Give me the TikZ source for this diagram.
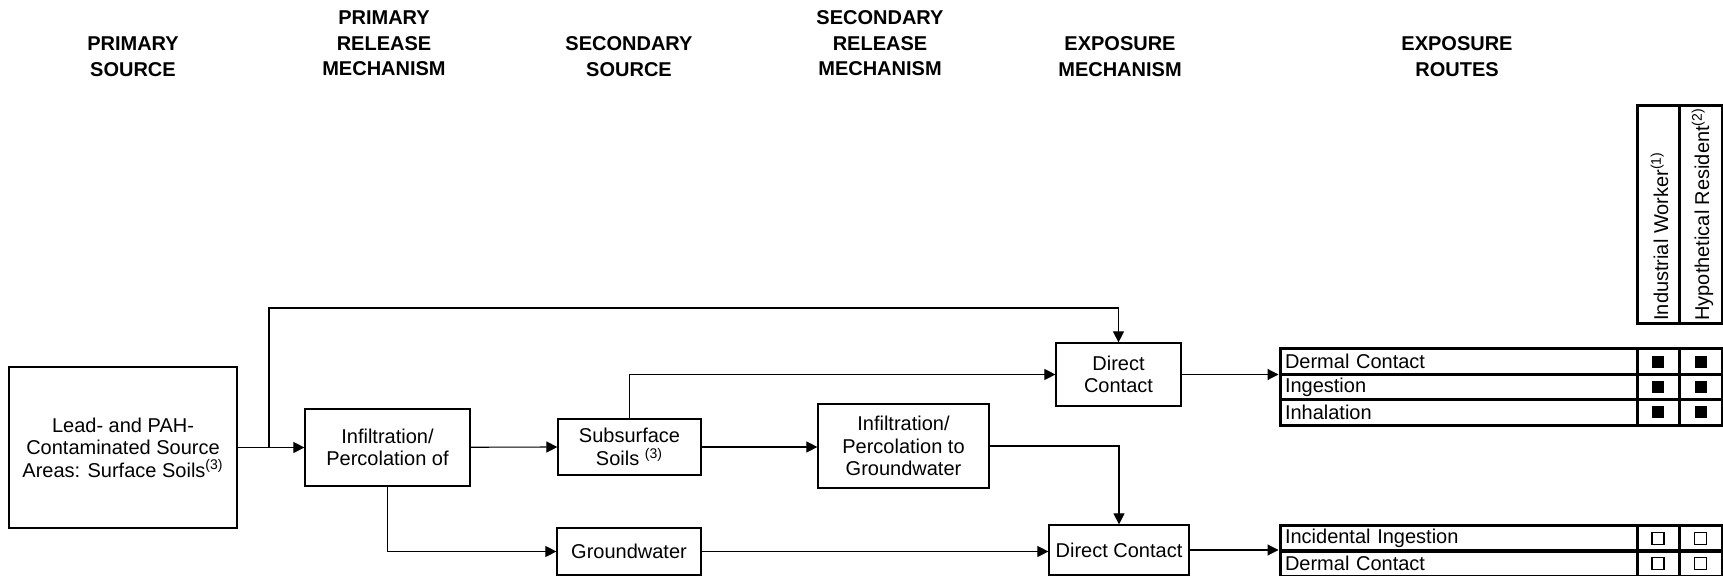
\documentclass[tikz,border=0pt]{standalone}
\usepackage{fontspec}
\setmainfont{Liberation Sans}
\usetikzlibrary{arrows.meta, positioning, calc}

\tikzset{
  box/.style={draw, line width=0.6pt, align=center, inner sep=0pt,
              font=\fontsize{10}{11.25}\selectfont},
  link/.style={line width=0.55pt, -{Triangle[length=5.5pt, width=5.5pt]}},
  heading/.style={align=center, inner sep=0pt, font=\fontsize{10}{12.75}\selectfont\bfseries},
  routerow/.style={draw, line width=1.5pt, minimum width=178.5pt, minimum height=12.75pt,
                   text width=173.5pt, align=left, inner xsep=2.5pt, inner ysep=0pt,
                   font=\fontsize{10}{12}\selectfont},
  cellbox/.style={draw, line width=1.5pt, minimum height=12.75pt, inner sep=0pt},
  fullmark/.style={fill, inner sep=0pt, minimum size=6pt},
  openmark/.style={draw, line width=0.6pt, inner sep=0pt, minimum size=6pt},
  receptor/.style={rotate=90, anchor=base west, inner sep=0pt, font=\fontsize{10}{12}\selectfont}
}

\begin{document}
\begin{tikzpicture}[x=0.5pt, y=-0.5pt]
\useasboundingbox (0,0) rectangle (1723,576);

% column headings
\node[heading] (hps)  at (133,56.5)  {PRIMARY\\SOURCE};
\node[heading] (hprm) at (384,43.5)  {PRIMARY\\RELEASE\\MECHANISM};
\node[heading] (hss)  at (629,56.5)  {SECONDARY\\SOURCE};
\node[heading] (hsrm) at (880,43.5)  {SECONDARY\\RELEASE\\MECHANISM};
\node[heading] (hem)  at (1120,56.5) {EXPOSURE\\MECHANISM};
\node[heading] (her)  at (1457,56.5) {EXPOSURE\\ROUTES};

% flow boxes
\node[box, minimum width=114pt, minimum height=80.5pt] (src) at (123,447.5)
  {Lead- and PAH-\\Contaminated Source\\Areas: Surface Soils\textsuperscript{(3)}};
\node[box, minimum width=82.5pt, minimum height=38.5pt] (inf1) at (387.5,447.5)
  {Infiltration/\\Percolation of};
\node[box, minimum width=71.5pt, minimum height=28pt] (sub) at (629.5,447)
  {Subsurface\\Soils \textsuperscript{(3)}};
\node[box, minimum width=72pt, minimum height=23.5pt] (gw) at (629,551.5) {Groundwater};
\node[box, minimum width=85.5pt, minimum height=42pt] (inf2) at (903.5,446)
  {Infiltration/\\Percolation to\\Groundwater};
\node[box, minimum width=62.5pt, minimum height=31.5pt] (dc1) at (1118.5,374.5) {Direct\\Contact};
\node[box, minimum width=70pt, minimum height=25pt] (dc2) at (1119,550) {Direct Contact};

% receptor heading
\node[cellbox, minimum width=21pt, minimum height=109pt] (colw) at (1658,215) {};
\node[cellbox, minimum width=21.5pt, minimum height=109pt] (colr) at (1700.5,215) {};
\node[receptor] (iw) at (1668,321) {Industrial Worker\textsuperscript{(1)}};
\node[receptor] (hr) at (1709,321) {Hypothetical Resident\textsuperscript{(2)}};

% exposure routes
\foreach \txt/\yy [count=\i] in {Dermal Contact/361.7, Ingestion/387, Inhalation/412.3} {
  \node[routerow] (soil\i) at (1458.5,\yy) {\txt};
  \node[cellbox, minimum width=21pt] (soilw\i) at (1658,\yy) {};
  \node[cellbox, minimum width=21.5pt] (soilr\i) at (1700.5,\yy) {};
  \node[fullmark] at (soilw\i) {};
  \node[fullmark] at (soilr\i) {};
}
\foreach \txt/\yy [count=\i] in {Incidental Ingestion/538.5, Dermal Contact/563.5} {
  \node[routerow] (water\i) at (1458.5,\yy) {\txt};
  \node[cellbox, minimum width=21pt] (waterw\i) at (1658,\yy) {};
  \node[cellbox, minimum width=21.5pt] (waterr\i) at (1700.5,\yy) {};
  \node[openmark] at (waterw\i) {};
  \node[openmark] at (waterr\i) {};
}

% connectors
\coordinate (split) at (269,448);
\coordinate (overhead) at (269,308);
\draw[link] (src) -- (inf1);
\draw[link] (split) -- (overhead) -| (dc1.north);
\draw[link] (inf1) -- (sub -| sub.west);
\draw[link] (inf1.south) |- (gw);
\draw[link] (sub.north) |- (dc1);
\draw[link] (sub) -- (sub -| inf2.west);
\draw[link] (inf2) -| (dc2);
\draw[link] (gw) -- (gw -| dc2.west);
\draw[link] (dc1) -- (dc1 -| soil1.west);
\draw[link] (dc2) -- (dc2 -| water1.west);
\end{tikzpicture}
\end{document}
